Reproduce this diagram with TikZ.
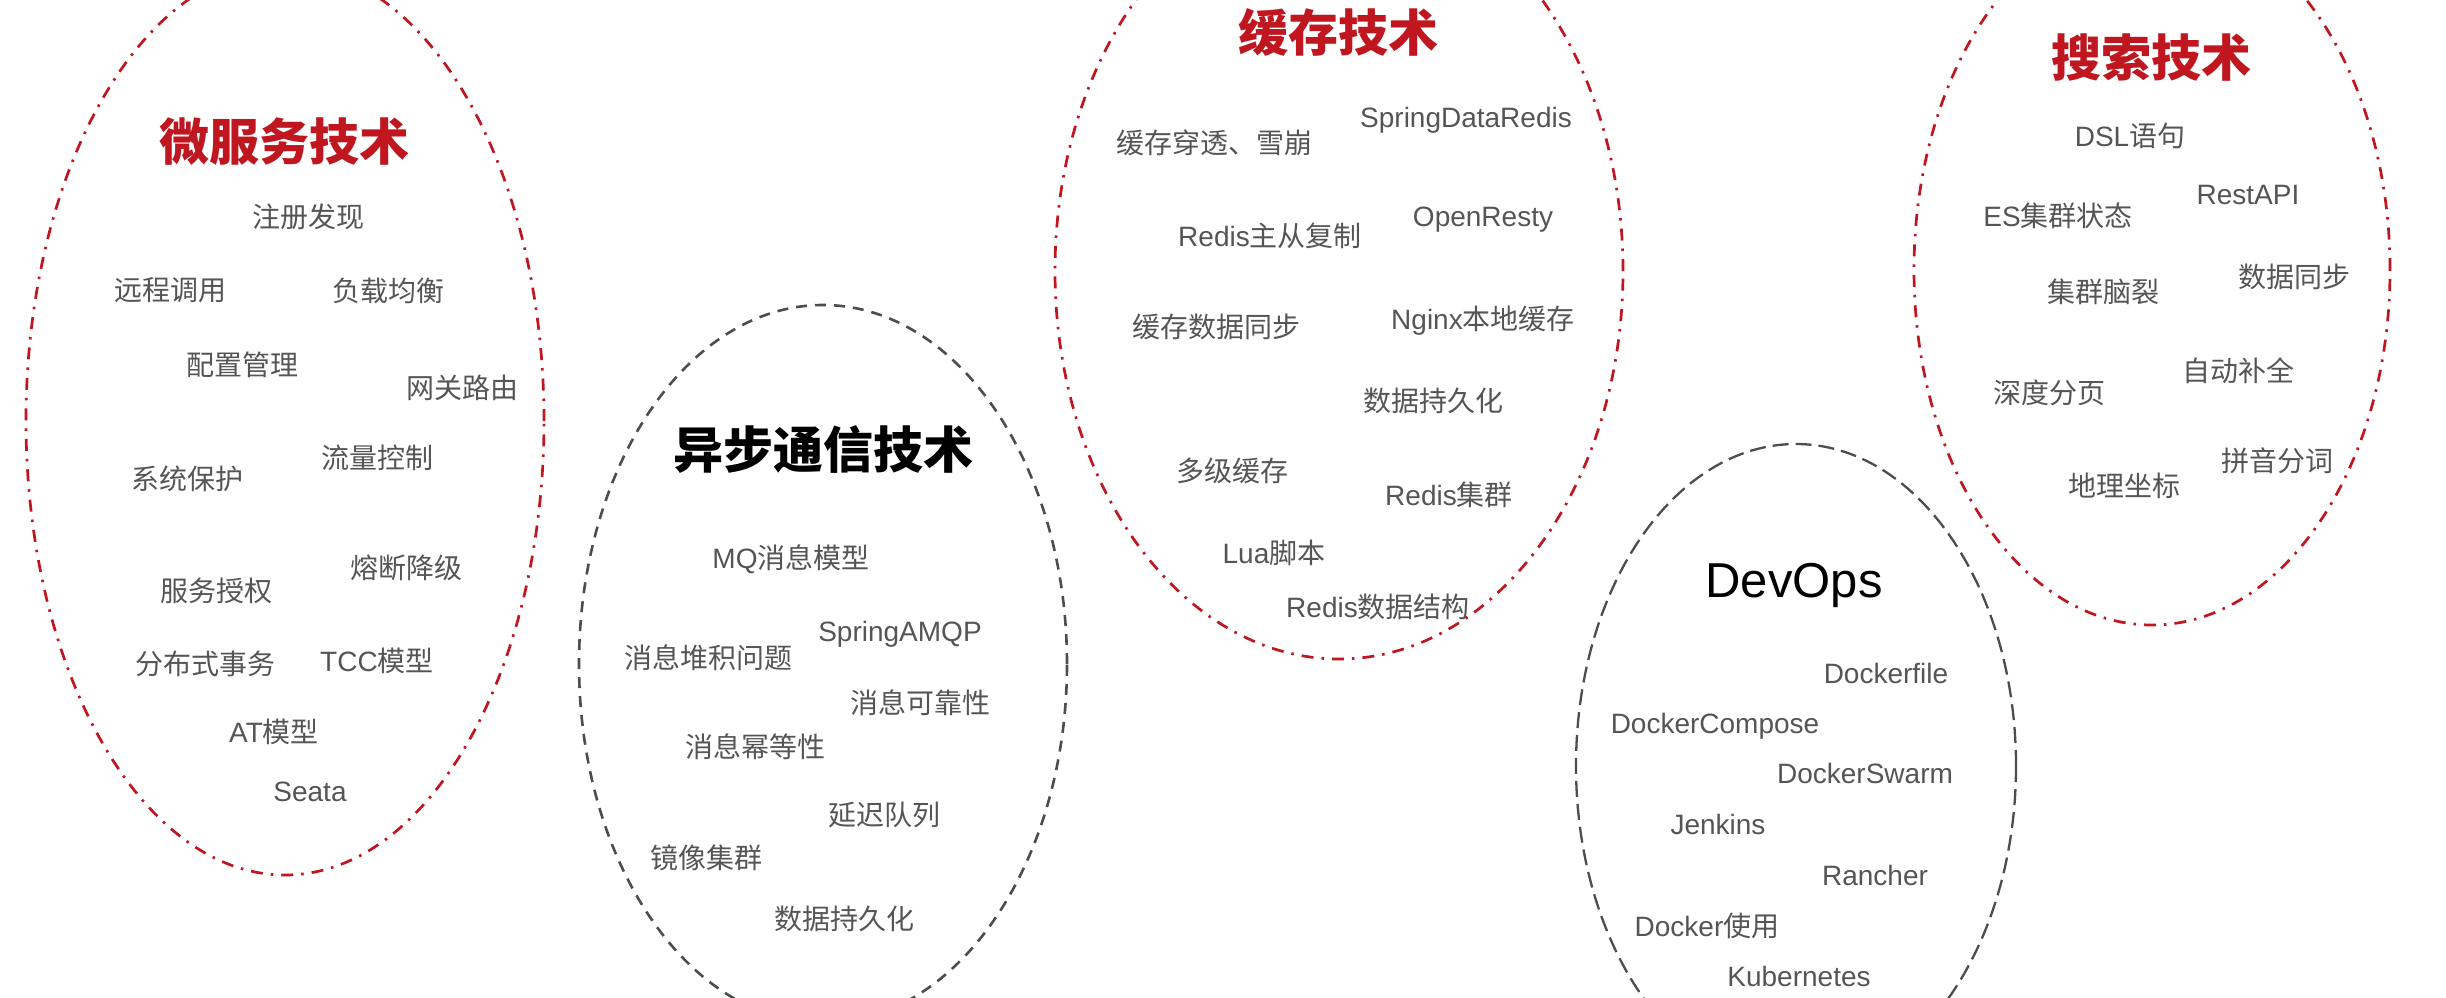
\documentclass[tikz,border=0pt]{standalone}
\usepackage{fontspec}
\setmainfont{Liberation Sans}
\newfontfamily\cjk{Noto Sans CJK SC}
\newcommand\zhc[1]{{\cjk #1}}
\definecolor{tred}{RGB}{192,22,32}
\definecolor{tgray}{RGB}{74,78,78}
\definecolor{ttext}{RGB}{85,85,85}
\begin{document}
\begin{tikzpicture}[x=1pt,y=-1pt,
  redring/.style={draw=tred, line width=2.7pt, dash pattern=on 12pt off 8pt on 2.5pt off 8pt},
  grayring/.style={draw=tgray, line width=2.6pt, dash pattern=on 11pt off 8pt},
  grayringlong/.style={draw=tgray, line width=2.3pt, dash pattern=on 16pt off 7pt},
  item/.style={anchor=base, yshift=-10.3pt, inner sep=0pt, text=ttext, font=\fontsize{28}{32}\selectfont},
  redtitle/.style={anchor=base, yshift=-19pt, inner sep=0pt, text=tred, font=\fontsize{50}{56}\selectfont\cjk\bfseries},
  blacktitle/.style={anchor=base, yshift=-19pt, inner sep=0pt, text=black, font=\fontsize{50}{56}\selectfont\cjk\bfseries},
  latintitle/.style={anchor=base, yshift=-17.5pt, inner sep=0pt, text=black, font=\fontsize{49}{54}\selectfont}]
\useasboundingbox (0,0) rectangle (2446,998);
\clip (0,0) rectangle (2446,998);
\fill[white] (0,0) rectangle (2446,998);

% rings
\draw[redring]      (285,421)  ellipse [x radius=259pt, y radius=454pt];
\draw[grayring]     (823,664)  ellipse [x radius=244pt, y radius=359pt];
\draw[redring]      (1339,271) ellipse [x radius=284pt, y radius=388pt];
\draw[grayringlong] (1796,766) ellipse [x radius=220pt, y radius=322pt];
\draw[redring]      (2152,270) ellipse [x radius=238pt, y radius=355pt];

% microservices
\node[redtitle] (t1) at (284,141) {微服务技术};
\node[item] (a1) at (308,217) {\zhc{注册发现}};
\node[item] (a2) at (170,290) {\zhc{远程调用}};
\node[item] (a3) at (388,291) {\zhc{负载均衡}};
\node[item] (a4) at (242,365) {\zhc{配置管理}};
\node[item] (a5) at (462,388) {\zhc{网关路由}};
\node[item] (a6) at (377,458) {\zhc{流量控制}};
\node[item] (a7) at (187,479) {\zhc{系统保护}};
\node[item] (a8) at (406,568) {\zhc{熔断降级}};
\node[item] (a9) at (216,591) {\zhc{服务授权}};
\node[item] (a10) at (205,664) {\zhc{分布式事务}};
\node[item] (a11) at (377,661) {TCC\zhc{模型}};
\node[item] (a12) at (274,732) {AT\zhc{模型}};
\node[item] (a13) at (310,791) {Seata};

% async messaging
\node[blacktitle] (t2) at (823,449) {异步通信技术};
\node[item] (b1) at (791,558) {MQ\zhc{消息模型}};
\node[item] (b2) at (900,631) {SpringAMQP};
\node[item] (b3) at (708,658) {\zhc{消息堆积问题}};
\node[item] (b4) at (920,703) {\zhc{消息可靠性}};
\node[item] (b5) at (755,747) {\zhc{消息幂等性}};
\node[item] (b6) at (884,815) {\zhc{延迟队列}};
\node[item] (b7) at (706,858) {\zhc{镜像集群}};
\node[item] (b8) at (844,919) {\zhc{数据持久化}};

% cache
\node[redtitle] (t3) at (1338,33) {缓存技术};
\node[item] (c1) at (1466,117) {SpringDataRedis};
\node[item] (c2) at (1214,143) {\zhc{缓存穿透、雪崩}};
\node[item] (c3) at (1483,216) {OpenResty};
\node[item] (c4) at (1270,236) {Redis\zhc{主从复制}};
\node[item] (c5) at (1483,319) {Nginx\zhc{本地缓存}};
\node[item] (c6) at (1216,327) {\zhc{缓存数据同步}};
\node[item] (c7) at (1433,401) {\zhc{数据持久化}};
\node[item] (c8) at (1232,471) {\zhc{多级缓存}};
\node[item] (c9) at (1449,495) {Redis\zhc{集群}};
\node[item] (c10) at (1274,553) {Lua\zhc{脚本}};
\node[item] (c11) at (1378,607) {Redis\zhc{数据结构}};

% devops
\node[latintitle] (t4) at (1794,580) {DevOps};
\node[item] (d1) at (1886,673) {Dockerfile};
\node[item] (d2) at (1715,723) {DockerCompose};
\node[item] (d3) at (1865,773) {DockerSwarm};
\node[item] (d4) at (1718,824) {Jenkins};
\node[item] (d5) at (1875,875) {Rancher};
\node[item] (d6) at (1707,926) {Docker\zhc{使用}};
\node[item] (d7) at (1799,976) {Kubernetes};

% search
\node[redtitle] (t5) at (2151,58) {搜索技术};
\node[item] (e1) at (2130,136) {DSL\zhc{语句}};
\node[item] (e2) at (2248,194) {RestAPI};
\node[item] (e3) at (2058,216) {ES\zhc{集群状态}};
\node[item] (e4) at (2294,277) {\zhc{数据同步}};
\node[item] (e5) at (2103,292) {\zhc{集群脑裂}};
\node[item] (e6) at (2238,371) {\zhc{自动补全}};
\node[item] (e7) at (2049,393) {\zhc{深度分页}};
\node[item] (e8) at (2277,461) {\zhc{拼音分词}};
\node[item] (e9) at (2124,486) {\zhc{地理坐标}};
\end{tikzpicture}
\end{document}
